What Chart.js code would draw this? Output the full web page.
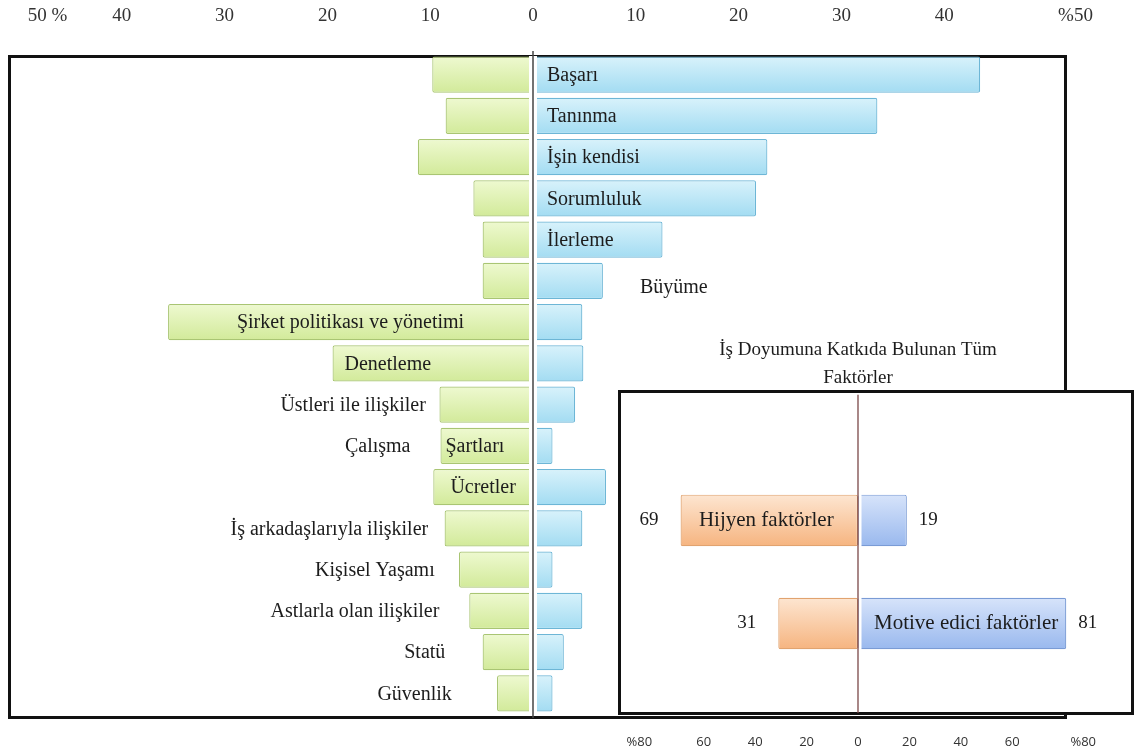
<!DOCTYPE html>
<html>
<head>
<meta charset="utf-8">
<script src="https://cdn.jsdelivr.net/npm/chart.js@4.4.1/dist/chart.umd.min.js"></script>
<style>
  html, body { margin: 0; padding: 0; background: #fff; }
  #wrap { position: relative; width: 1141px; height: 756px; overflow: hidden; }
  .box { position: absolute; border: 3px solid #111; box-sizing: border-box; }
  #mainBox { left: 8px; top: 55px; width: 1059px; height: 664px; }
  #insetBox { left: 618px; top: 390px; width: 516px; height: 325px; background: #fff; }
  canvas { position: absolute; }
</style>
</head>
<body>
<div id="wrap">
  <div id="mainBox" class="box"></div>
  <canvas id="mainChart" width="1141" height="756" style="left:0;top:0"></canvas>
  <div id="insetBox" class="box"></div>
  <canvas id="insetChart" width="531" height="426" style="left:610px;top:330px"></canvas>
</div>
<script>
// main chart data
const factors = ["Başarı", "Tanınma", "İşin kendisi", "Sorumluluk", "İlerleme", "Büyüme",
  "Şirket politikası ve yönetimi", "Denetleme", "Üstleri ile ilişkiler", "Çalışma Şartları",
  "Ücretler", "İş arkadaşlarıyla ilişkiler", "Kişisel Yaşamı", "Astlarla olan ilişkiler", "Statü", "Güvenlik"];
const dissatisfaction = [9.8, 8.5, 11.2, 5.8, 4.9, 4.9, 35.5, 19.5, 9.1, 9.0, 9.7, 8.6, 7.2, 6.2, 4.9, 3.5];
const satisfaction = [43.5, 33.5, 22.8, 21.7, 12.6, 6.8, 4.8, 4.9, 4.1, 1.9, 7.1, 4.8, 1.9, 4.8, 3.0, 1.9];
// where each factor name is written
const labelPlace = ["inRight", "inRight", "inRight", "inRight", "inRight", "outRight",
  "inCenter", "inLeft", "outLeft", "split", "inCenter", "outLeft", "outLeft", "outLeft", "outLeft", "outLeft"];
const mainTicks = [-50, -40, -30, -20, -10, 0, 10, 20, 30, 40, 50];

// inset data
const groups = ["Hijyen faktörler", "Motive edici faktörler"];
const hygieneShare = [69, 31];
const motivatorShare = [19, 81];
const insetTicks = [-80, -60, -40, -20, 0, 20, 40, 60, 80];
const insetTitle = ["İş Doyumuna Katkıda Bulunan Tüm", "Faktörler"];

const SERIF = "'Liberation Serif', 'DejaVu Serif', serif";
const TEXT = "#1c1c1c";
const EM = "\u2003";

// vertical gradient for one bar, centred on its category row
function barFill(top, bottom, half) {
  return c => {
    const y = c.chart.scales.y;
    if (!y || c.dataIndex === undefined) return top;
    const yc = y.getPixelForValue(c.dataIndex);
    if (!Number.isFinite(yc)) return top;
    const g = c.chart.ctx.createLinearGradient(0, yc - half, 0, yc + half);
    g.addColorStop(0, top);
    g.addColorStop(1, bottom);
    return g;
  };
}

// fixed axis box so the plot area lands where the picture has it
function fixAxis(height) {
  return s => {
    s.height = height;
    s.paddingLeft = 0;
    s.paddingRight = 0;
  };
}

function text(ctx, str, x, y, align) {
  ctx.textAlign = align;
  ctx.fillText(str, x, y);
}

const mainLabels = {
  id: "mainLabels",
  afterDatasetsDraw(chart) {
    const ctx = chart.ctx;
    const area = chart.chartArea;
    const x0 = chart.scales.x.getPixelForValue(0);
    ctx.save();
    // small gap round the zero line, then the line itself
    ctx.fillStyle = "#fff";
    ctx.fillRect(x0 - 4, area.top + 2, 8, area.bottom - area.top - 2);
    ctx.strokeStyle = "#444";
    ctx.lineWidth = 1.5;
    ctx.beginPath();
    ctx.moveTo(x0, area.top - 3);
    ctx.lineTo(x0, area.bottom + 4);
    ctx.stroke();

    const left = chart.getDatasetMeta(0).data;
    const right = chart.getDatasetMeta(1).data;
    ctx.font = "20px " + SERIF;
    ctx.fillStyle = TEXT;
    ctx.textBaseline = "middle";
    factors.forEach((name, i) => {
      const g = left[i], b = right[i];
      const y = b.y + 1;
      switch (labelPlace[i]) {
        case "inRight": text(ctx, name, x0 + 14, y, "left"); break;
        case "outRight": text(ctx, name, b.x + 37, y + 6, "left"); break;
        case "inCenter": text(ctx, name, (g.x + x0) / 2, y, "center"); break;
        case "inLeft": text(ctx, name, g.x + 12, y, "left"); break;
        case "outLeft": text(ctx, name, x0 - 65 - 0.45 * (x0 - g.x), y, "right"); break;
        case "split": {
          const parts = name.split(" ");
          text(ctx, parts[0], g.x - 30, y, "right");
          text(ctx, parts[1], g.x + 5, y, "left");
          break;
        }
      }
    });
    ctx.restore();
  }
};

new Chart(document.getElementById("mainChart"), {
  type: "bar",
  data: {
    labels: factors,
    datasets: [
      {
        label: "Tatminsizlik",
        data: dissatisfaction.map(v => -v),
        backgroundColor: barFill("#eef9d0", "#d2ea9a", 18),
        borderColor: "#a9c573",
        borderWidth: 1.2,
        borderRadius: 2,
        borderSkipped: false
      },
      {
        label: "Tatmin",
        data: satisfaction,
        backgroundColor: barFill("#d8f2fb", "#a3dcf2", 18),
        borderColor: "#6db6d6",
        borderWidth: 1.2,
        borderRadius: 2,
        borderSkipped: false
      }
    ]
  },
  options: {
    indexAxis: "y",
    responsive: false,
    animation: false,
    layout: { padding: { left: 19, right: 94, top: 6, bottom: 42 } },
    plugins: { legend: { display: false }, tooltip: { enabled: false } },
    datasets: { bar: { barPercentage: 0.88, categoryPercentage: 1 } },
    scales: {
      x: {
        position: "top",
        stacked: true,
        min: -50,
        max: 50,
        afterBuildTicks: s => { s.ticks = mainTicks.map(v => ({ value: v })); },
        afterFit: fixAxis(48),
        grid: { display: false },
        border: { display: false },
        ticks: {
          padding: 19,
          minRotation: 0,
          maxRotation: 0,
          autoSkip: false,
          color: "#333",
          font: { family: SERIF, size: 19 },
          callback: v => v === -50 ? EM.repeat(3) + "50 %" : v === 50 ? EM.repeat(3) + "%50" : String(Math.abs(v))
        }
      },
      y: { stacked: true, display: false }
    }
  },
  plugins: [mainLabels]
});

const insetLabels = {
  id: "insetLabels",
  afterDatasetsDraw(chart) {
    const ctx = chart.ctx;
    const area = chart.chartArea;
    const x0 = chart.scales.x.getPixelForValue(0);
    ctx.save();
    ctx.fillStyle = "#fff";
    ctx.fillRect(x0 + 0.5, area.top, 3, area.bottom - area.top);
    ctx.strokeStyle = "#7a4747";
    ctx.lineWidth = 1.3;
    ctx.beginPath();
    ctx.moveTo(x0, area.top - 74);
    ctx.lineTo(x0, area.bottom + 38);
    ctx.stroke();

    const left = chart.getDatasetMeta(0).data;
    const right = chart.getDatasetMeta(1).data;
    ctx.fillStyle = TEXT;
    ctx.textBaseline = "middle";
    groups.forEach((name, i) => {
      const o = left[i], b = right[i];
      const y = o.y;
      ctx.font = "19px " + SERIF;
      text(ctx, String(hygieneShare[i]), o.x - 22, y, "right");
      text(ctx, String(motivatorShare[i]), b.x + 12, y, "left");
      ctx.font = "21px " + SERIF;
      if (hygieneShare[i] > motivatorShare[i]) {
        text(ctx, name, (o.x + x0) / 2 - 3, y, "center");
      } else {
        text(ctx, name, x0 + 16, y, "left");
      }
    });
    ctx.restore();
  }
};

new Chart(document.getElementById("insetChart"), {
  type: "bar",
  data: {
    labels: groups,
    datasets: [
      {
        label: "Hijyen",
        data: hygieneShare.map(v => -v),
        backgroundColor: barFill("#fde5d0", "#f6b581", 25),
        borderColor: "#e1a36f",
        borderWidth: 1.2,
        borderRadius: 2,
        borderSkipped: false
      },
      {
        label: "Motive edici",
        data: motivatorShare,
        backgroundColor: barFill("#d6e3fa", "#9ab9ee", 25),
        borderColor: "#7a9bd5",
        borderWidth: 1.2,
        borderRadius: 2,
        borderSkipped: false
      }
    ]
  },
  options: {
    indexAxis: "y",
    responsive: false,
    animation: false,
    layout: { padding: { left: 32, right: 67, top: 0, bottom: 0 } },
    plugins: {
      legend: { display: false },
      tooltip: { enabled: false },
      title: {
        display: true,
        text: insetTitle,
        color: TEXT,
        font: { family: SERIF, size: 19, weight: "normal", lineHeight: 1.47 },
        padding: { top: 6, bottom: 77 }
      }
    },
    datasets: { bar: { barPercentage: 0.5, categoryPercentage: 1 } },
    scales: {
      x: {
        stacked: true,
        min: -84,
        max: 84,
        afterBuildTicks: s => { s.ticks = insetTicks.map(v => ({ value: v })); },
        afterFit: fixAxis(81),
        grid: { display: false },
        border: { display: false },
        ticks: {
          padding: 51,
          minRotation: 0,
          maxRotation: 0,
          autoSkip: false,
          color: "#333",
          font: { family: "'Open Sans', 'Liberation Sans', sans-serif", size: 13 },
          callback: v => v === -80 ? "%80" + EM + EM : v === 80 ? EM.repeat(3) + "%80" : String(Math.abs(v))
        }
      },
      y: { stacked: true, display: false }
    }
  },
  plugins: [insetLabels]
});
</script>
</body>
</html>
